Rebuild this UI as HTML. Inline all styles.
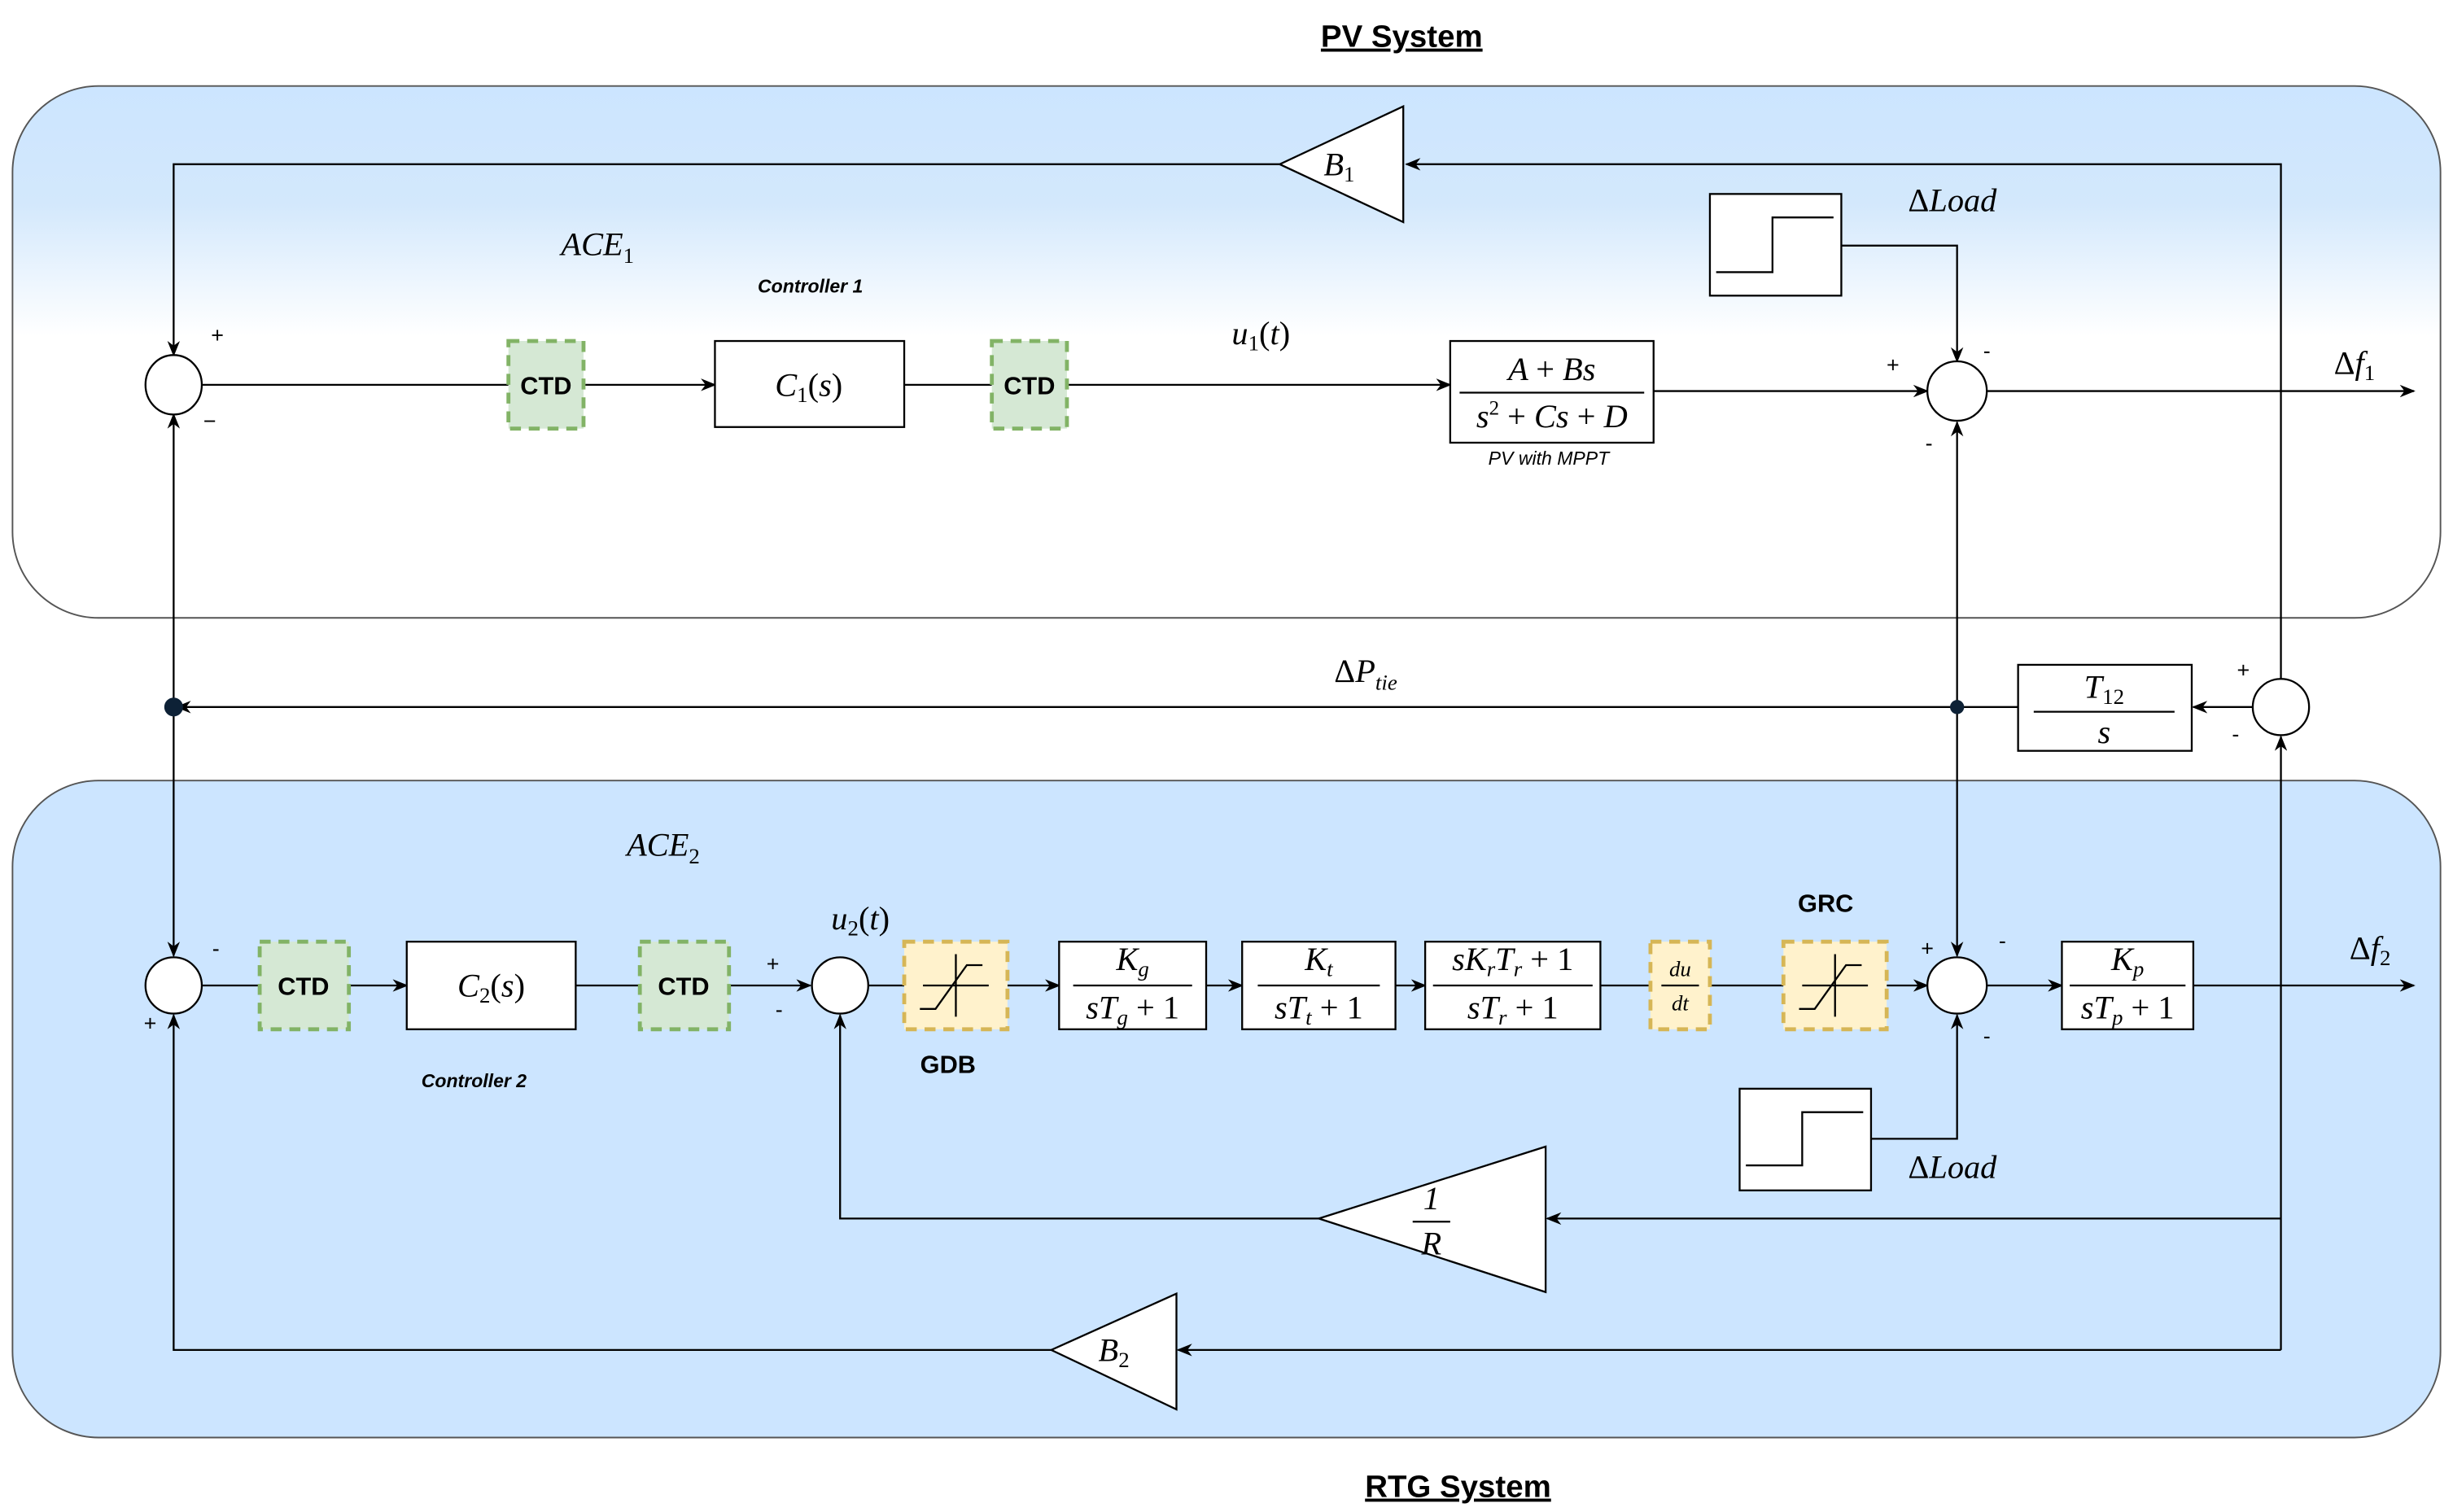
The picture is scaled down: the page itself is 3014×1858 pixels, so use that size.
<!DOCTYPE html>
<html><head><meta charset="utf-8"><style>
html,body{margin:0;padding:0;background:#fff}
svg{display:block}
text{font-family:"Liberation Serif",serif;font-style:italic;fill:#000}
.b{font-family:"Liberation Sans",sans-serif;font-style:normal;font-weight:bold}
.s{font-family:"Liberation Sans",sans-serif;font-style:normal}
</style></head><body>
<svg width="3014" height="1858" viewBox="0 0 1568 966.6" preserveAspectRatio="none" xmlns="http://www.w3.org/2000/svg">
<defs>
<linearGradient id="g" x1="0" y1="0" x2="0" y2="1">
<stop offset="0" stop-color="#cce5ff"/><stop offset="0.22" stop-color="#d3e8fc"/><stop offset="0.47" stop-color="#ffffff"/><stop offset="1" stop-color="#ffffff"/>
</linearGradient>
<marker id="a" markerWidth="10" markerHeight="8" refX="9" refY="4" orient="auto" markerUnits="userSpaceOnUse"><path d="M0,0 L10,4 L0,8 L3,4 Z" fill="#000"/></marker>
</defs>
<rect x="8" y="55" width="1552" height="340" rx="55" fill="url(#g)" stroke="#555" stroke-width="1"/>
<rect x="8" y="499" width="1552" height="420" rx="55" fill="#cce5ff" stroke="#555" stroke-width="1"/>
<text x="896" y="30" class="b" font-size="20" text-anchor="middle" text-decoration="underline">PV System</text>
<text x="932" y="957" class="b" font-size="20" text-anchor="middle" text-decoration="underline">RTG System</text>
<g stroke="#000" stroke-width="1.2" fill="none">
<!-- top loop -->
<polyline points="1458,434 1458,105 899,105" marker-end="url(#a)"/>
<polyline points="818,105 111,105 111,227" marker-end="url(#a)"/>
<line x1="129" y1="246" x2="325" y2="246"/>
<line x1="373" y1="246" x2="457" y2="246" marker-end="url(#a)"/>
<line x1="578" y1="246" x2="634" y2="246"/>
<line x1="682" y1="246" x2="927" y2="246" marker-end="url(#a)"/>
<line x1="1057" y1="250" x2="1232" y2="250" marker-end="url(#a)"/>
<polyline points="1177,157 1251,157 1251,231" marker-end="url(#a)"/>
<line x1="1270" y1="250" x2="1543" y2="250" marker-end="url(#a)"/>
<line x1="1251" y1="452" x2="1251" y2="270" marker-end="url(#a)"/>
<line x1="1251" y1="452" x2="1251" y2="611" marker-end="url(#a)"/>
<line x1="1440" y1="452" x2="1402" y2="452" marker-end="url(#a)"/>
<line x1="1290" y1="452" x2="113" y2="452" marker-end="url(#a)"/>
<line x1="111" y1="452" x2="111" y2="265" marker-end="url(#a)"/>
<line x1="111" y1="452" x2="111" y2="611" marker-end="url(#a)"/>
<!-- bottom -->
<line x1="129" y1="630" x2="166" y2="630"/>
<line x1="223" y1="630" x2="260" y2="630" marker-end="url(#a)"/>
<line x1="368" y1="630" x2="409" y2="630"/>
<line x1="466" y1="630" x2="518" y2="630" marker-end="url(#a)"/>
<line x1="555" y1="630" x2="578" y2="630"/>
<line x1="644" y1="630" x2="677" y2="630" marker-end="url(#a)"/>
<line x1="771" y1="630" x2="794" y2="630" marker-end="url(#a)"/>
<line x1="892" y1="630" x2="911" y2="630" marker-end="url(#a)"/>
<line x1="1023" y1="630" x2="1055" y2="630"/>
<line x1="1093" y1="630" x2="1140" y2="630"/>
<line x1="1206" y1="630" x2="1232" y2="630" marker-end="url(#a)"/>
<line x1="1270" y1="630" x2="1318" y2="630" marker-end="url(#a)"/>
<line x1="1402" y1="630" x2="1543" y2="630" marker-end="url(#a)"/>
<polyline points="1196,728 1251,728 1251,649" marker-end="url(#a)"/>
<line x1="1458" y1="863" x2="1458" y2="471" marker-end="url(#a)"/>
<line x1="1458" y1="779" x2="989" y2="779" marker-end="url(#a)"/>
<polyline points="843,779 537,779 537,649" marker-end="url(#a)"/>
<line x1="1458" y1="863" x2="753" y2="863" marker-end="url(#a)"/>
<polyline points="672,863 111,863 111,649" marker-end="url(#a)"/>
</g>
<g stroke="#000" stroke-width="1.2" fill="#fff">
<ellipse cx="111" cy="246" rx="18" ry="19"/>
<ellipse cx="1251" cy="250" rx="19" ry="19"/>
<ellipse cx="1458" cy="452" rx="18" ry="18"/>
<ellipse cx="111" cy="630" rx="18" ry="18"/>
<ellipse cx="537" cy="630" rx="18" ry="18"/>
<ellipse cx="1251" cy="630" rx="19" ry="18"/>
<polygon points="897,68 897,142 818,105"/>
<polygon points="988,733 988,826 843,779"/>
<polygon points="752,827 752,901 672,863"/>
<rect x="457" y="218" width="121" height="55"/>
<rect x="927" y="218" width="130" height="65"/>
<rect x="1093" y="124" width="84" height="65"/>
<rect x="1290" y="425" width="111" height="55"/>
<rect x="260" y="602" width="108" height="56"/>
<rect x="677" y="602" width="94" height="56"/>
<rect x="794" y="602" width="98" height="56"/>
<rect x="911" y="602" width="112" height="56"/>
<rect x="1318" y="602" width="84" height="56"/>
<rect x="1112" y="696" width="84" height="65"/>
</g>
<circle cx="111" cy="452" r="6" fill="#0d2136"/>
<circle cx="1251" cy="452" r="4.5" fill="#0d2136"/>
<g stroke-width="2.5" stroke-dasharray="7,5">
<rect x="325" y="218" width="48" height="56" fill="#d5e8d4" stroke="#82b366"/>
<rect x="634" y="218" width="48" height="56" fill="#d5e8d4" stroke="#82b366"/>
<rect x="166" y="602" width="57" height="56" fill="#d5e8d4" stroke="#82b366"/>
<rect x="409" y="602" width="57" height="56" fill="#d5e8d4" stroke="#82b366"/>
<rect x="578" y="602" width="66" height="56" fill="#fff2cc" stroke="#d6b656"/>
<rect x="1055" y="602" width="38" height="56" fill="#fff2cc" stroke="#d6b656"/>
<rect x="1140" y="602" width="66" height="56" fill="#fff2cc" stroke="#d6b656"/>
</g>
<g stroke="#000" stroke-width="1.2" fill="none">
<line x1="590" y1="630" x2="632" y2="630"/><line x1="611" y1="610" x2="611" y2="650"/>
<polyline points="588,645 598,645 618,617 628,617"/>
<line x1="1152" y1="630" x2="1194" y2="630"/><line x1="1173" y1="610" x2="1173" y2="650"/>
<polyline points="1150,645 1160,645 1180,617 1190,617"/>
<polyline points="1097,174 1133,174 1133,139 1172,139"/>
<polyline points="1116,745 1152,745 1152,711 1191,711"/>
<line x1="933" y1="251" x2="1051" y2="251"/>
<line x1="1300" y1="455" x2="1390" y2="455"/>
<line x1="686" y1="630" x2="762" y2="630"/>
<line x1="804" y1="630" x2="882" y2="630"/>
<line x1="916" y1="630" x2="1018" y2="630"/>
<line x1="1323" y1="630" x2="1397" y2="630"/>
<line x1="1062" y1="630" x2="1086" y2="630"/>
<line x1="903" y1="781" x2="927" y2="781"/>
</g>
<g class="b" font-size="16">
<text x="349" y="252" class="b" text-anchor="middle">CTD</text>
<text x="658" y="252" class="b" text-anchor="middle">CTD</text>
<text x="194" y="636" class="b" text-anchor="middle">CTD</text>
<text x="437" y="636" class="b" text-anchor="middle">CTD</text>
<text x="606" y="686" class="b" text-anchor="middle">GDB</text>
<text x="1167" y="583" class="b" text-anchor="middle">GRC</text>
</g>
<text x="518" y="187" class="b" font-size="12" font-style="italic" text-anchor="middle" style="font-style:italic">Controller 1</text>
<text x="303" y="695" class="b" font-size="12" text-anchor="middle" style="font-style:italic">Controller 2</text>
<text x="990" y="297" class="s" font-size="12" text-anchor="middle" style="font-style:italic">PV with MPPT</text>
<g font-size="21">
<text x="382" y="163" text-anchor="middle">ACE<tspan font-size="14" font-style="normal" dy="5">1</tspan></text>
<text x="424" y="547" text-anchor="middle">ACE<tspan font-size="14" font-style="normal" dy="5">2</tspan></text>
<text x="517" y="253" text-anchor="middle">C<tspan font-size="14" font-style="normal" dy="4">1</tspan><tspan dy="-4" font-style="normal">(</tspan>s<tspan font-style="normal">)</tspan></text>
<text x="314" y="637" text-anchor="middle">C<tspan font-size="14" font-style="normal" dy="4">2</tspan><tspan dy="-4" font-style="normal">(</tspan>s<tspan font-style="normal">)</tspan></text>
<text x="806" y="220" text-anchor="middle">u<tspan font-size="14" font-style="normal" dy="4">1</tspan><tspan dy="-4" font-style="normal">(</tspan>t<tspan font-style="normal">)</tspan></text>
<text x="550" y="594" text-anchor="middle">u<tspan font-size="14" font-style="normal" dy="4">2</tspan><tspan dy="-4" font-style="normal">(</tspan>t<tspan font-style="normal">)</tspan></text>
<text x="1248" y="135" text-anchor="middle"><tspan font-style="normal">Δ</tspan>Load</text>
<text x="1248" y="753" text-anchor="middle"><tspan font-style="normal">Δ</tspan>Load</text>
<text x="873" y="436" text-anchor="middle"><tspan font-style="normal">Δ</tspan>P<tspan font-size="14" dy="5">tie</tspan></text>
<text x="1505" y="239" text-anchor="middle"><tspan font-style="normal">Δ</tspan>f<tspan font-size="14" font-style="normal" dy="4">1</tspan></text>
<text x="1515" y="613" text-anchor="middle"><tspan font-style="normal">Δ</tspan>f<tspan font-size="14" font-style="normal" dy="4">2</tspan></text>
<text x="856" y="112" text-anchor="middle">B<tspan font-size="14" font-style="normal" dy="4">1</tspan></text>
<text x="712" y="870" text-anchor="middle">B<tspan font-size="14" font-style="normal" dy="4">2</tspan></text>
<text x="992" y="243" text-anchor="middle">A <tspan font-style="normal">+</tspan> Bs</text>
<text x="992" y="273" text-anchor="middle">s<tspan font-size="13" font-style="normal" dy="-8">2</tspan><tspan dy="8" font-style="normal"> + </tspan>Cs <tspan font-style="normal">+</tspan> D</text>
<text x="1345" y="446" text-anchor="middle">T<tspan font-size="14" font-style="normal" dy="4">12</tspan></text>
<text x="1345" y="475" text-anchor="middle">s</text>
<text x="724" y="620" text-anchor="middle">K<tspan font-size="14" dy="4">g</tspan></text>
<text x="724" y="651" text-anchor="middle">sT<tspan font-size="14" dy="4">g</tspan><tspan dy="-4" font-style="normal"> + 1</tspan></text>
<text x="843" y="620" text-anchor="middle">K<tspan font-size="14" dy="4">t</tspan></text>
<text x="843" y="651" text-anchor="middle">sT<tspan font-size="14" dy="4">t</tspan><tspan dy="-4" font-style="normal"> + 1</tspan></text>
<text x="967" y="620" text-anchor="middle">sK<tspan font-size="14" dy="4">r</tspan><tspan dy="-4">T</tspan><tspan font-size="14" dy="4">r</tspan><tspan dy="-4" font-style="normal"> + 1</tspan></text>
<text x="967" y="651" text-anchor="middle">sT<tspan font-size="14" dy="4">r</tspan><tspan dy="-4" font-style="normal"> + 1</tspan></text>
<text x="1360" y="620" text-anchor="middle">K<tspan font-size="14" dy="4">p</tspan></text>
<text x="1360" y="651" text-anchor="middle">sT<tspan font-size="14" dy="4">p</tspan><tspan dy="-4" font-style="normal"> + 1</tspan></text>
<text x="915" y="773" text-anchor="middle" font-style="normal">1</text>
<text x="915" y="802" text-anchor="middle">R</text>
</g>
<text x="1074" y="624" font-size="14" text-anchor="middle">du</text>
<text x="1074" y="646" font-size="14" text-anchor="middle">dt</text>
<g class="s" font-size="14">
<text x="139" y="219" class="s" text-anchor="middle">+</text>
<text x="134" y="274" class="s" text-anchor="middle">−</text>
<text x="1210" y="238" class="s" text-anchor="middle">+</text>
<text x="1270" y="229" class="s" text-anchor="middle">-</text>
<text x="1233" y="288" class="s" text-anchor="middle">-</text>
<text x="1434" y="433" class="s" text-anchor="middle">+</text>
<text x="1429" y="474" class="s" text-anchor="middle">-</text>
<text x="138" y="611" class="s" text-anchor="middle">-</text>
<text x="96" y="659" class="s" text-anchor="middle">+</text>
<text x="494" y="621" class="s" text-anchor="middle">+</text>
<text x="498" y="650" class="s" text-anchor="middle">-</text>
<text x="1232" y="611" class="s" text-anchor="middle">+</text>
<text x="1280" y="606" class="s" text-anchor="middle">-</text>
<text x="1270" y="667" class="s" text-anchor="middle">-</text>
</g>
</svg>
</body></html>
